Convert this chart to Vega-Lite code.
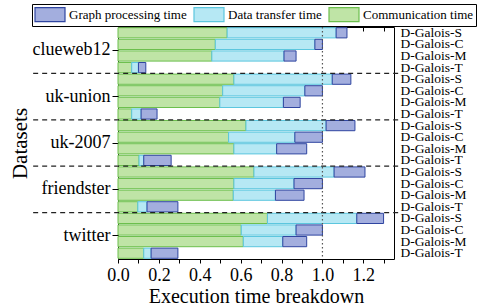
{
  "$schema": "https://vega.github.io/schema/vega-lite/v6.json",
  "width": 276,
  "height": 232,
  "autosize": {"type": "none"},
  "padding": {"left": 118, "top": 27, "right": 84, "bottom": 49},
  "config": {
    "view": {"stroke": "#000", "strokeWidth": 1},
    "font": "Liberation Serif, Times New Roman, serif",
    "axis": {"labelFont": "Liberation Serif, Times New Roman, serif", "titleFont": "Liberation Serif, Times New Roman, serif", "labelColor": "#000", "titleColor": "#000", "tickColor": "#000", "domain": false, "grid": false, "titleFontWeight": "normal"},
    "legend": {"labelFont": "Liberation Serif, Times New Roman, serif", "labelColor": "#000"}
  },
  "resolve": {"scale": {"y": "independent"}, "axis": {"x": "independent", "y": "independent"}},
  "layer": [
    {
      "data": {"values": [
        {"bar": "clueweb12|D-Galois-S", "Communication time": 0.534, "Data transfer time": 0.533, "Graph processing time": 0.053},
        {"bar": "clueweb12|D-Galois-C", "Communication time": 0.476, "Data transfer time": 0.487, "Graph processing time": 0.037},
        {"bar": "clueweb12|D-Galois-M", "Communication time": 0.459, "Data transfer time": 0.353, "Graph processing time": 0.059},
        {"bar": "clueweb12|D-Galois-T", "Communication time": 0.067, "Data transfer time": 0.033, "Graph processing time": 0.036},
        {"bar": "uk-union|D-Galois-S", "Communication time": 0.567, "Data transfer time": 0.481, "Graph processing time": 0.091},
        {"bar": "uk-union|D-Galois-C", "Communication time": 0.512, "Data transfer time": 0.402, "Graph processing time": 0.086},
        {"bar": "uk-union|D-Galois-M", "Communication time": 0.498, "Data transfer time": 0.311, "Graph processing time": 0.082},
        {"bar": "uk-union|D-Galois-T", "Communication time": 0.067, "Data transfer time": 0.046, "Graph processing time": 0.078},
        {"bar": "uk-2007|D-Galois-S", "Communication time": 0.626, "Data transfer time": 0.392, "Graph processing time": 0.141},
        {"bar": "uk-2007|D-Galois-C", "Communication time": 0.541, "Data transfer time": 0.324, "Graph processing time": 0.135},
        {"bar": "uk-2007|D-Galois-M", "Communication time": 0.567, "Data transfer time": 0.209, "Graph processing time": 0.147},
        {"bar": "uk-2007|D-Galois-T", "Communication time": 0.103, "Data transfer time": 0.023, "Graph processing time": 0.134},
        {"bar": "friendster|D-Galois-S", "Communication time": 0.665, "Data transfer time": 0.392, "Graph processing time": 0.151},
        {"bar": "friendster|D-Galois-C", "Communication time": 0.567, "Data transfer time": 0.294, "Graph processing time": 0.139},
        {"bar": "friendster|D-Galois-M", "Communication time": 0.564, "Data transfer time": 0.206, "Graph processing time": 0.14},
        {"bar": "friendster|D-Galois-T", "Communication time": 0.097, "Data transfer time": 0.045, "Graph processing time": 0.151},
        {"bar": "twitter|D-Galois-S", "Communication time": 0.731, "Data transfer time": 0.437, "Graph processing time": 0.131},
        {"bar": "twitter|D-Galois-C", "Communication time": 0.603, "Data transfer time": 0.268, "Graph processing time": 0.129},
        {"bar": "twitter|D-Galois-M", "Communication time": 0.613, "Data transfer time": 0.193, "Graph processing time": 0.117},
        {"bar": "twitter|D-Galois-T", "Communication time": 0.126, "Data transfer time": 0.036, "Graph processing time": 0.131}
      ]},
      "transform": [{"fold": ["Communication time", "Data transfer time", "Graph processing time"], "as": ["component", "value"]}],
      "mark": {"type": "bar", "strokeWidth": 1},
      "encoding": {
        "y": {"field": "bar", "type": "nominal", "sort": null,
          "scale": {"paddingInner": 0.12, "paddingOuter": 0.06},
          "axis": {"orient": "right", "title": null, "ticks": false, "labelPadding": 6, "labelFontSize": 13.5, "labelOverlap": false, "labelExpr": "split(datum.label, '|')[1]"}},
        "x": {"field": "value", "type": "quantitative", "stack": "zero",
          "scale": {"domain": [0, 1.35], "nice": false},
          "axis": {"orient": "bottom", "title": "Execution time breakdown", "titleFontSize": 20, "titlePadding": 2,
            "values": [0, 0.1, 0.2, 0.3, 0.4, 0.5, 0.6, 0.7, 0.8, 0.9, 1.0, 1.1, 1.2, 1.3],
            "labelExpr": "round(datum.value * 10) % 2 == 0 ? format(datum.value, '.1f') : ''",
            "tickSize": 4, "labelFontSize": 18, "labelPadding": 3, "labelOverlap": false, "labelFlush": false}},
        "color": {"field": "component", "type": "nominal",
          "scale": {"domain": ["Graph processing time", "Data transfer time", "Communication time"], "range": ["#a3aede", "#b6e8f4", "#bfe4a6"]},
          "legend": {"title": null, "orient": "none", "legendX": -86, "legendY": -23, "direction": "horizontal", "columns": 3, "columnPadding": 4, "strokeColor": "#000", "padding": 2, "labelFontSize": 13, "symbolType": "M-1,-0.933H3V0.933H-1Z", "symbolSize": 225, "labelOffset": 18, "symbolStrokeWidth": 1.2}},
        "stroke": {"field": "component", "type": "nominal",
          "scale": {"domain": ["Graph processing time", "Data transfer time", "Communication time"], "range": ["#2f45a0", "#5cc6de", "#6cbf4d"]},
          "legend": {"title": null, "orient": "none", "legendX": -86, "legendY": -23, "direction": "horizontal", "columns": 3, "columnPadding": 4, "strokeColor": "#000", "padding": 2, "labelFontSize": 13, "symbolType": "M-1,-0.933H3V0.933H-1Z", "symbolSize": 225, "labelOffset": 18, "symbolStrokeWidth": 1.2}},
        "order": {"field": "component", "type": "nominal", "sort": "ascending"}
      }
    },
    {
      "data": {"values": [{"dataset": "uk-union"}, {"dataset": "uk-2007"}, {"dataset": "friendster"}, {"dataset": "twitter"}]},
      "mark": {"type": "rule", "strokeDash": [5, 4], "color": "#222", "strokeWidth": 1.2, "clip": false},
      "encoding": {
        "y": {"field": "dataset", "type": "nominal", "bandPosition": 0,
          "scale": {"type": "band", "domain": ["clueweb12", "uk-union", "uk-2007", "friendster", "twitter"], "paddingInner": 0, "paddingOuter": 0},
          "axis": {"orient": "left", "title": "Datasets", "titleFontSize": 21, "titlePadding": 2, "labelFontSize": 18, "tickSize": 6, "labelPadding": 2}},
        "x": {"datum": -0.415,
          "axis": {"orient": "top", "title": null, "labels": false, "tickSize": -4,
            "values": [0, 0.1, 0.2, 0.3, 0.4, 0.5, 0.6, 0.7, 0.8, 0.9, 1.0, 1.1, 1.2, 1.3]}},
        "x2": {"datum": 1.385}
      }
    },
    {
      "data": {"values": [{"ref": 1.0}]},
      "mark": {"type": "rule", "strokeDash": [1.5, 2.5], "color": "#555", "strokeWidth": 1.2},
      "encoding": {
        "x": {"field": "ref", "type": "quantitative", "axis": null}
      }
    }
  ]
}
